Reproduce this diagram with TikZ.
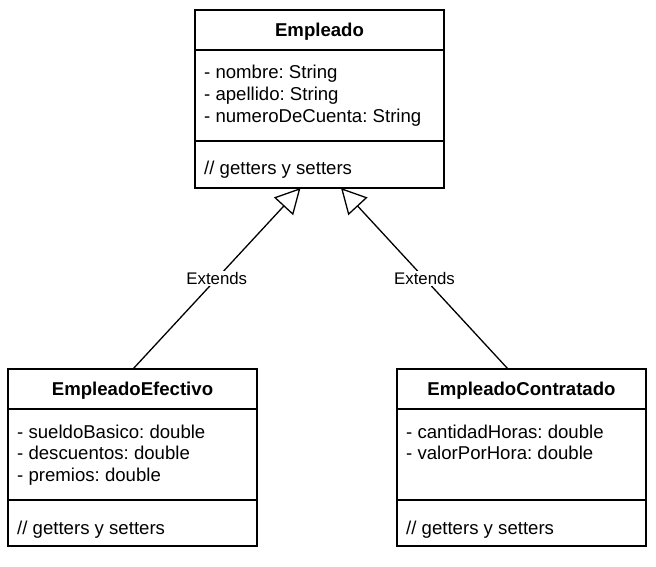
\documentclass[tikz,border=0pt]{standalone}
\usepackage{fontspec}
\setmainfont{Liberation Sans}
\usetikzlibrary{positioning, calc, arrows.meta}

\newcommand{\umlfont}{\fontsize{18.6}{21.7}\selectfont\frenchspacing}

\begin{document}
\begin{tikzpicture}[x=1pt, y=-1pt,
  classpart/.style = {draw, line width=1.3pt, minimum width=249pt, inner sep=0pt, outer sep=0pt},
  classname/.style = {classpart, minimum height=40pt, text height=13.4pt, text depth=0pt, font=\umlfont\bfseries},
  membertext/.style = {anchor=base west, inner sep=0pt, align=left, font=\umlfont},
  extends/.style = {line width=1.3pt, -{Triangle[open, length=25pt, width=26pt]}}]

\useasboundingbox (0,0) rectangle (656,567);

% superclass
\node[classname] (emp) at (319.5,30) {Empleado};
\node[classpart, minimum height=91pt, below=0pt of emp] (empattr) {};
\node[classpart, minimum height=47pt, below=0pt of empattr] (empmeth) {};
% base anchor sits on the last line
\node[membertext] (empattrtxt) at ($(empattr.north west)+(9,72.4)$)
  {- nombre: String\\- apellido: String\\- numeroDeCuenta: String};
\node[membertext] (empmethtxt) at ($(empmeth.north west)+(9,34)$) {// getters y setters};

% subclasses
\node[classname] (efe) at (132.5,389) {EmpleadoEfectivo};
\node[classpart, minimum height=91pt, below=0pt of efe] (efeattr) {};
\node[classpart, minimum height=46pt, below=0pt of efeattr] (efemeth) {};
\node[membertext] (efeattrtxt) at ($(efeattr.north west)+(9,72.4)$)
  {- sueldoBasico: double\\- descuentos: double\\- premios: double};
\node[membertext] (efemethtxt) at ($(efemeth.north west)+(9,34)$) {// getters y setters};

\node[classname] (con) at (521.5,389) {EmpleadoContratado};
\node[classpart, minimum height=91pt, below=0pt of con] (conattr) {};
\node[classpart, minimum height=46pt, below=0pt of conattr] (conmeth) {};
\node[membertext] (conattrtxt) at ($(conattr.north west)+(9,50.7)$)
  {- cantidadHoras: double\\- valorPorHora: double};
\node[membertext] (conmethtxt) at ($(conmeth.north west)+(9,34)$) {// getters y setters};

% inheritance
\coordinate (empleft) at ($(empmeth.south)+(-19,0)$);
\coordinate (empright) at ($(empmeth.south)+(21.5,0)$);
\coordinate (efetop) at ($(efe.north)+(0.5,0)$);
\coordinate (contop) at ($(con.north)+(-13.5,0)$);

\draw[extends] (efetop) -- node[fill=white, inner sep=1.5pt, font=\fontsize{16.8}{20}\selectfont] {Extends} (empleft);
\draw[extends] (contop) -- node[fill=white, inner sep=1.5pt, font=\fontsize{16.8}{20}\selectfont] {Extends} (empright);

\end{tikzpicture}
\end{document}
